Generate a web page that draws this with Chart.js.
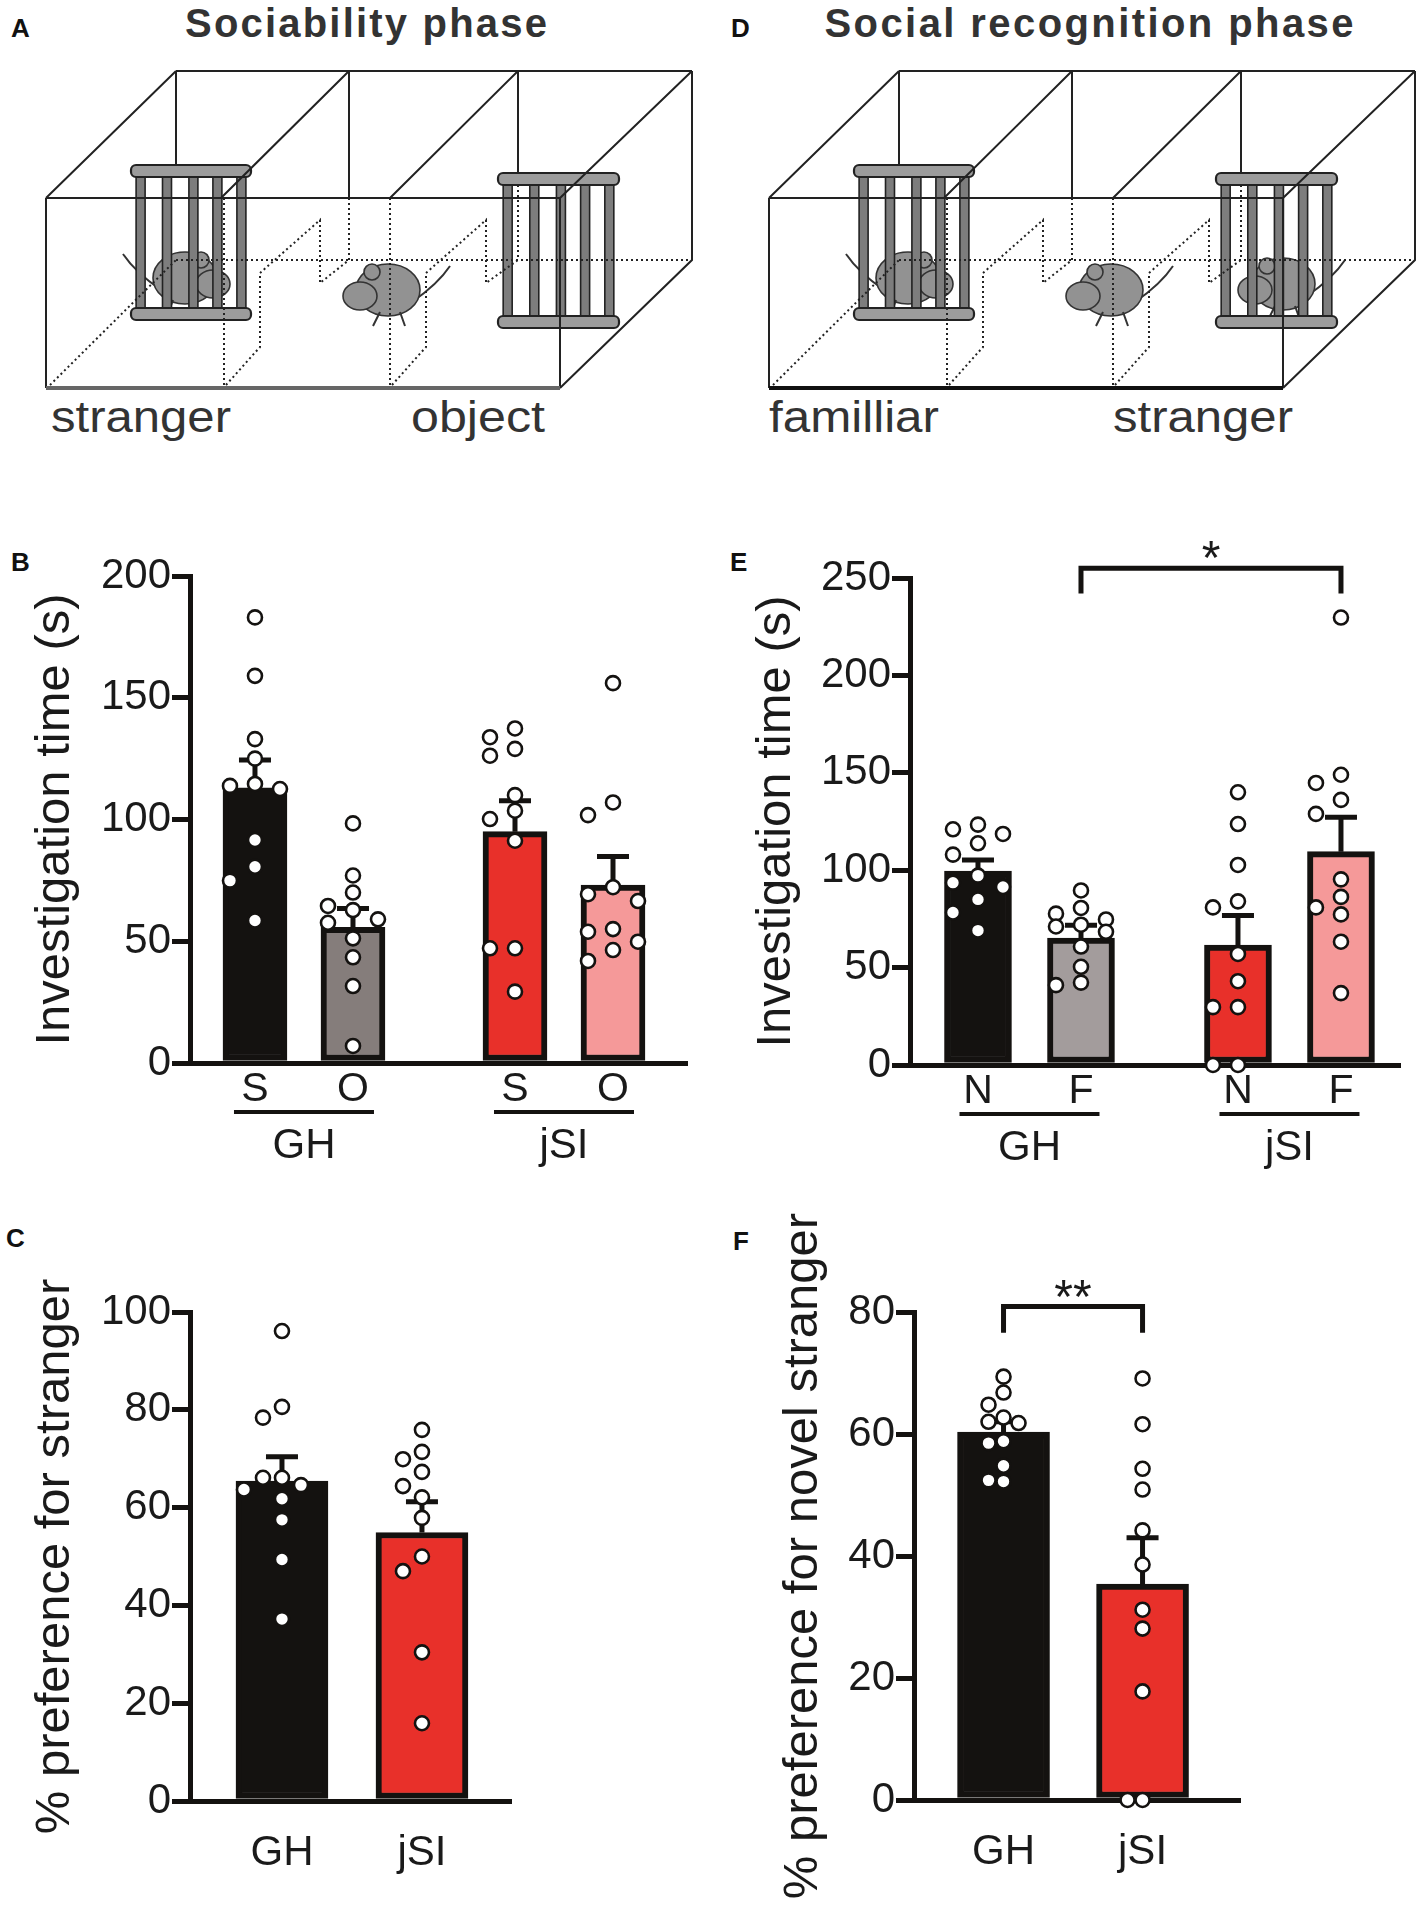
<!DOCTYPE html>
<html>
<head>
<meta charset="utf-8">
<script src="https://cdn.jsdelivr.net/npm/chart.js@4.4.1/dist/chart.umd.min.js"></script>
<style>
  html, body { margin: 0; padding: 0; background: #fff; }
  #page { position: relative; width: 1418px; height: 1907px; overflow: hidden; }
  canvas { position: absolute; }
  svg { position: absolute; left: 0; top: 0; }
  .tag { position: absolute; font: bold 26px 'Liberation Sans', Arial, sans-serif; line-height: 26px; color: #111; }
</style>
</head>
<body>
<div id="page">
  <svg id="schem" width="1418" height="470"></svg>
  <div class="tag" style="left:11px;top:15px">A</div>
  <div class="tag" style="left:731px;top:15px">D</div>
  <div class="tag" style="left:11px;top:549px">B</div>
  <div class="tag" style="left:730px;top:549px">E</div>
  <div class="tag" style="left:6px;top:1225px">C</div>
  <div class="tag" style="left:733px;top:1228px">F</div>
  <canvas id="chartB" width="709" height="660" style="left:0;top:520px"></canvas>
  <canvas id="chartE" width="709" height="660" style="left:709px;top:520px"></canvas>
  <canvas id="chartC" width="709" height="707" style="left:0;top:1200px"></canvas>
  <canvas id="chartF" width="709" height="707" style="left:709px;top:1200px"></canvas>
</div>
<script>
// ---- data ----
const groups = ['GH', 'jSI'];

// B: sociability phase, S = stranger, O = object
const b_bars = ['S', 'O', 'S', 'O'];
const b_mean = [113, 55.7, 95, 73.1];
const b_sem = [11.4, 7.8, 12.7, 11.7];
const b_gh_s = [183, 159, 133, 125, 114.6, 113.8, 112.5, 91.6, 80.6, 74.9, 58.5];
const b_gh_o = [98.4, 77, 70, 64.5, 62.8, 59, 57.6, 51.2, 43.4, 31.6, 7];
const b_jsi_s = [137.4, 133.8, 129, 126.2, 110, 103.6, 100.2, 91.3, 47.1, 47.1, 29.3];
const b_jsi_o = [156, 107, 101.8, 72.2, 69.3, 66.5, 55, 53.9, 49.8, 46.4, 41.9];

// E: social recognition phase, N = novel, F = familiar
const e_bars = ['N', 'F', 'N', 'F'];
const e_mean = [99.6, 65.1, 61.5, 109.5];
const e_sem = [5.7, 6.7, 15.3, 17.7];
const e_gh_n = [123.4, 121, 118.6, 113.8, 108, 97.2, 93.6, 91.4, 85, 78.3, 69];
const e_gh_f = [89.6, 80.6, 77.7, 74.7, 72, 71.1, 68.4, 60.8, 50.4, 42.3, 41];
const e_jsi_n = [140, 123.7, 102.7, 84, 80.9, 57, 43, 29.7, 29.7, 0, 0];
const e_jsi_f = [229.7, 149, 144.8, 136.1, 128.9, 95.3, 86.3, 80.9, 77.3, 63.3, 36.9];
const e_sig = { from: 1, to: 3, top: 255, drop: 242, mark: '*', markAt: 266 };

// C: % preference for stranger
const c_mean = [65.4, 54.9];
const c_sem = [5.0, 6.3];
const c_gh = [96.1, 80.6, 78.4, 66.1, 66.1, 64.6, 63.7, 61.8, 57.5, 49.4, 37.2];
const c_jsi = [75.9, 71.4, 69.9, 67.3, 64.4, 62.1, 57.9, 50, 47, 30.4, 15.9];

// F: % preference for novel stranger
const f_mean = [60.3, 35.4];
const f_sem = [1.7, 7.6];
const f_gh = [69.4, 66.8, 64.8, 62.7, 62, 61.8, 58.8, 58.5, 54.8, 52.4, 52.2];
const f_jsi = [69.1, 61.6, 54.3, 50.9, 44.2, 38.6, 31.2, 28.1, 17.8, 0, 0];
const f_sig = { from: 0, to: 1, top: 80.9, drop: 76.6, mark: '**', markAt: 84.3 };

// ---- styles ----
const INK = '#141210';
const BLACK = '#141210', GRAY_B = '#857d7b', GRAY_E = '#a39c9c', RED = '#e8302a', PINK = '#f59999';
const fam = "'Liberation Sans', Arial, sans-serif";

// spread overlapping dots over a few columns, prism style
function swarm(vals, cx, pxX, pxY, stepPx, maxCol, diam) {
  const cols = [0];
  for (let k = 1; k <= maxCol; k++) cols.push(-k, k);
  const placed = [];
  return vals.map(v => {
    const gap = k => Math.min(Infinity, ...placed.filter(p => p.c === k).map(p => Math.abs(p.v - v) * pxY));
    let c = cols.find(k => gap(k) >= diam);
    if (c === undefined) c = cols.reduce((b, k) => (gap(k) > gap(b) ? k : b), cols[0]);
    placed.push({ c: c, v: v });
    return { x: cx + c * stepPx / pxX, y: v };
  });
}

function makePanel(id, p) {
  const canvas = document.getElementById(id);
  const W = canvas.width, H = canvas.height;
  const pxX = (W - p.axisW - p.pad.right) / (p.xMax - p.xMin);
  const pxY = (H - p.pad.top - p.pad.bottom) / p.yMax;
  const per = p.perGroup;
  const pos = p.mean.map((m, i) => Math.floor(i / per) * p.gap + (i % per));

  const dots = p.series.map((vals, i) => ({
    type: 'scatter',
    data: swarm(vals, pos[i], pxX, pxY, p.stepPx, p.maxCol, 15),
    pointRadius: 7,
    pointBorderWidth: 2.6,
    pointBackgroundColor: '#fff',
    pointBorderColor: INK,
    clip: false,
    order: 1
  }));

  const extras = {
    id: 'extras_' + id,
    afterDatasetDraw(chart, args) {
      if (args.meta.type !== 'bar') return;
      const ctx = chart.ctx, y = chart.scales.y;
      ctx.save();
      ctx.strokeStyle = INK;
      ctx.lineWidth = 5;
      args.meta.data.forEach((bar, i) => {
        const top = y.getPixelForValue(p.mean[i] + p.sem[i]);
        ctx.beginPath();
        ctx.moveTo(bar.x, bar.y);
        ctx.lineTo(bar.x, top);
        ctx.moveTo(bar.x - 16, top);
        ctx.lineTo(bar.x + 16, top);
        ctx.stroke();
      });
      ctx.restore();
    },
    afterDraw(chart) {
      const ctx = chart.ctx, x = chart.scales.x, y = chart.scales.y, a = chart.chartArea;
      ctx.save();
      ctx.fillStyle = '#1a1a1a';
      ctx.strokeStyle = INK;
      ctx.textAlign = 'center';
      ctx.textBaseline = 'middle';
      // bar letters and group names
      groups.forEach((g, gi) => {
        const xs = pos.slice(gi * per, gi * per + per).map(v => x.getPixelForValue(v));
        const mid = (xs[0] + xs[xs.length - 1]) / 2;
        if (p.bars) {
          ctx.font = '41px ' + fam;
          xs.forEach((px, j) => ctx.fillText(p.bars[gi * per + j], px, a.bottom + 27));
          ctx.lineWidth = 4;
          ctx.beginPath();
          ctx.moveTo(mid - 70, a.bottom + 49);
          ctx.lineTo(mid + 70, a.bottom + 49);
          ctx.stroke();
          ctx.font = '42px ' + fam;
          ctx.fillText(g, mid, a.bottom + 83);
        } else {
          ctx.font = '42px ' + fam;
          ctx.fillText(g, mid, a.bottom + 52);
        }
      });
      // significance bracket
      if (p.sig) {
        const s = p.sig;
        const x1 = x.getPixelForValue(pos[s.from]), x2 = x.getPixelForValue(pos[s.to]);
        const yt = y.getPixelForValue(s.top), yd = y.getPixelForValue(s.drop);
        ctx.lineWidth = 5;
        ctx.beginPath();
        ctx.moveTo(x1, yd);
        ctx.lineTo(x1, yt);
        ctx.lineTo(x2, yt);
        ctx.lineTo(x2, yd);
        ctx.stroke();
        ctx.font = '48px ' + fam;
        ctx.textBaseline = 'alphabetic';
        ctx.fillText(s.mark, (x1 + x2) / 2, y.getPixelForValue(s.markAt) + 27);
      }
      // y title
      ctx.translate(p.titleX, (a.top + a.bottom) / 2);
      ctx.rotate(-Math.PI / 2);
      ctx.font = '49px ' + fam;
      ctx.textBaseline = 'middle';
      ctx.fillText(p.title, 0, 0);
      ctx.restore();
    }
  };

  return new Chart(canvas, {
    type: 'bar',
    data: {
      datasets: [{
        data: p.mean.map((m, i) => ({ x: pos[i], y: m })),
        backgroundColor: p.colors,
        borderColor: INK,
        borderWidth: 6,
        borderSkipped: false,
        barThickness: p.barPx,
        order: 2
      }, ...dots]
    },
    options: {
      responsive: false,
      animation: false,
      events: [],
      layout: { padding: { left: 0, top: p.pad.top, right: p.pad.right, bottom: p.pad.bottom } },
      plugins: { legend: { display: false }, tooltip: { enabled: false } },
      scales: {
        x: {
          type: 'linear', min: p.xMin, max: p.xMax, offset: false,
          ticks: { display: false },
          grid: { display: false },
          border: { display: true, width: 5, color: INK },
          afterFit: s => { s.height = 0; }
        },
        y: {
          min: 0, max: p.yMax,
          ticks: { stepSize: p.yStep, font: { family: fam, size: 42 }, color: '#1a1a1a', padding: 1 },
          grid: { display: true, drawOnChartArea: false, drawTicks: true, tickLength: 18, lineWidth: 5, color: INK, tickColor: INK },
          border: { display: true, width: 5, color: INK },
          afterFit: s => { s.width = p.axisW; }
        }
      }
    },
    plugins: [extras]
  });
}

makePanel('chartB', {
  bars: b_bars, mean: b_mean, sem: b_sem, series: [b_gh_s, b_gh_o, b_jsi_s, b_jsi_o],
  colors: [BLACK, GRAY_B, RED, PINK], perGroup: 2, gap: 2.653,
  axisW: 190, pad: { top: 56, right: 22, bottom: 117 }, xMin: -0.663, xMax: 4.408,
  yMax: 200, yStep: 50, barPx: 64, stepPx: 25, maxCol: 1, titleX: 55, title: 'Investigation time (s)'
});
makePanel('chartE', {
  bars: e_bars, mean: e_mean, sem: e_sem, series: [e_gh_n, e_gh_f, e_jsi_n, e_jsi_f],
  colors: [BLACK, GRAY_E, RED, PINK], perGroup: 2, gap: 2.524, sig: e_sig,
  axisW: 201, pad: { top: 58, right: 18, bottom: 115 }, xMin: -0.66, xMax: 4.097,
  yMax: 250, yStep: 50, barPx: 67, stepPx: 25, maxCol: 1, titleX: 67, title: 'Investigation time (s)'
});
makePanel('chartC', {
  mean: c_mean, sem: c_sem, series: [c_gh, c_jsi],
  colors: [BLACK, RED], perGroup: 1, gap: 1,
  axisW: 190, pad: { top: 112, right: 198, bottom: 106 }, xMin: -0.657, xMax: 1.636,
  yMax: 100, yStep: 20, barPx: 92, stepPx: 19, maxCol: 2, titleX: 55, title: '% preference for stranger'
});
makePanel('chartF', {
  mean: f_mean, sem: f_sem, series: [f_gh, f_jsi],
  colors: [BLACK, RED], perGroup: 1, gap: 1, sig: f_sig,
  axisW: 205, pad: { top: 112, right: 178, bottom: 107 }, xMin: -0.644, xMax: 1.701,
  yMax: 80, yStep: 20, barPx: 92, stepPx: 15, maxCol: 2, titleX: 94, title: '% preference for novel stranger'
});

// ---- three-chamber schematics (A, D) ----
function cage(x0, x1, yt, yb) {
  const w = x1 - x0;
  let s = '';
  [0.08, 0.3, 0.52, 0.72, 0.92].forEach(f => {
    const bx = x0 + f * w;
    s += `<rect x="${bx - 4.5}" y="${yt + 8}" width="9" height="${yb - yt - 8}" fill="#7d7d7d" stroke="#222" stroke-width="1.6"/>`;
  });
  s += `<rect x="${x0}" y="${yt}" width="${w}" height="12" rx="5" fill="#9c9c9c" stroke="#222" stroke-width="2.2"/>`;
  s += `<rect x="${x0}" y="${yb - 5}" width="${w}" height="12" rx="5" fill="#9c9c9c" stroke="#222" stroke-width="2.2"/>`;
  return s;
}
function mouse(cx, cy, dir) {
  const d = dir;
  return `<g fill="#929292" stroke="#333" stroke-width="1.6">
    <path d="M${cx + d * 24},${cy + 12} Q${cx + d * 50},${cy - 6} ${cx + d * 62},${cy - 24}" fill="none" stroke-width="2"/>
    <ellipse cx="${cx}" cy="${cy}" rx="32" ry="26"/>
    <ellipse cx="${cx - d * 28}" cy="${cy + 6}" rx="17" ry="14"/>
    <circle cx="${cx - d * 16}" cy="${cy - 18}" r="8"/>
    <path d="M${cx - d * 8},${cy + 22} l${-d * 7},14 M${cx + d * 12},${cy + 22} l${d * 5},14" fill="none" stroke-width="2"/>
  </g>`;
}
function chamber(dx, thick, rightCageShift, rightMouse) {
  const ln = 'stroke="#222" stroke-width="2" fill="none"';
  const dt = 'stroke="#222" stroke-width="2" fill="none" stroke-dasharray="2 3"';
  let s = `<g transform="translate(${dx},0)">`;
  s += mouse(185, 278, -1);
  s += cage(131, 251, 165, 313);
  if (rightMouse) s += mouse(565 + rightCageShift, 284, 1);
  s += cage(498 + rightCageShift, 619 + rightCageShift, 173, 321);
  s += mouse(388, 290, 1);
  s += `<path d="M176,71 H692 M46,198 L176,71 M221,198 L349,71 M390,198 L518,71 M560,198 L692,71
        M46,198 H560 V388 M46,198 V388 M692,71 V260 L560,388 M176,71 V165 M349,71 V198 M518,71 V173" ${ln}/>`;
  s += `<path d="M349,198 V260 M518,185 V260 M176,260 H692 M50,385 L176,260 M224,198 V388 M390,198 V388
        M226,385 L260,347 V273 L320,220 V283 L349,260 M392,385 L426,347 V273 L486,220 V283 L518,260" ${dt}/>`;
  s += `<path d="M46,388 H560" stroke="${thick}" stroke-width="4"/>`;
  s += '</g>';
  return s;
}
const tf = "font-family=\"'Liberation Sans', Arial, sans-serif\"";
const lab = `font-size="44" fill="#333" lengthAdjust="spacingAndGlyphs" ${tf}`;
document.getElementById('schem').innerHTML =
  chamber(0, '#666', 0, false) + chamber(723, '#111', -5, true) +
  `<text x="366" y="37" text-anchor="middle" font-size="40" font-weight="bold" fill="#333" textLength="362" ${tf}>Sociability phase</text>
   <text x="1089" y="37" text-anchor="middle" font-size="40" font-weight="bold" fill="#333" textLength="529" ${tf}>Social recognition phase</text>
   <text x="51" y="432" textLength="180" ${lab}>stranger</text>
   <text x="411" y="432" textLength="134" ${lab}>object</text>
   <text x="769" y="432" textLength="170" ${lab}>familliar</text>
   <text x="1113" y="432" textLength="180" ${lab}>stranger</text>`;
</script>
</body>
</html>
